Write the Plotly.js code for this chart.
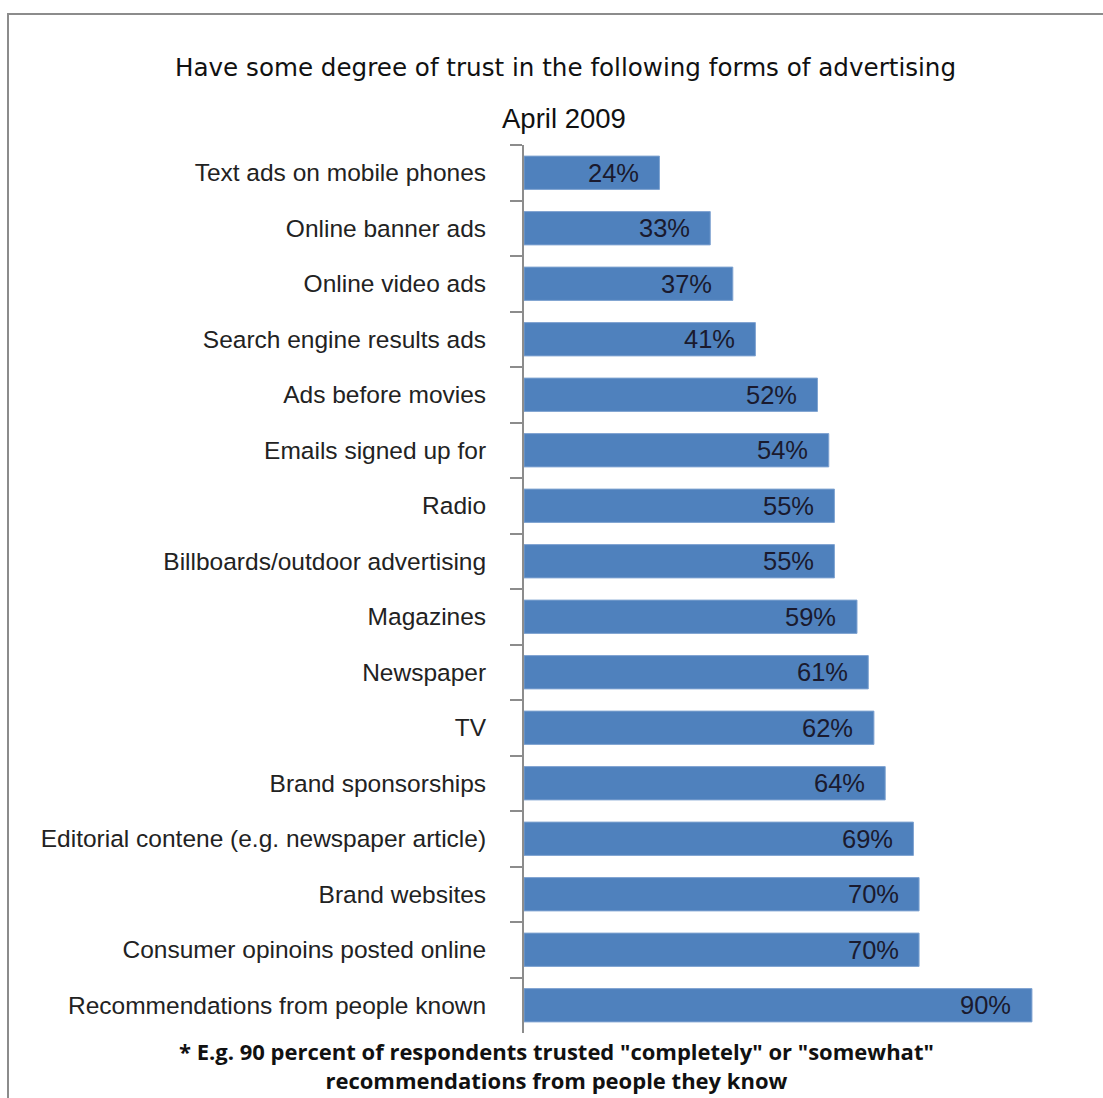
<!DOCTYPE html>
<html>
<head>
<meta charset="utf-8">
<script src="https://cdn.plot.ly/plotly-3.0.1.min.js"></script>
<style>
  html, body { margin: 0; padding: 0; background: #fff; }
  #frame { position: absolute; left: 7px; top: 13px; width: 1096px; height: 1085px;
           border-left: 2px solid #8c8c8c; border-top: 2px solid #8c8c8c; }
  #chart { position: absolute; left: 0; top: 0; width: 1103px; height: 1098px; }
</style>
</head>
<body>
<div id="frame"></div>
<div id="chart"></div>
<script>
const categories = [
  "Text ads on mobile phones",
  "Online banner ads",
  "Online video ads",
  "Search engine results ads",
  "Ads before movies",
  "Emails signed up for",
  "Radio",
  "Billboards/outdoor advertising",
  "Magazines",
  "Newspaper",
  "TV",
  "Brand sponsorships",
  "Editorial contene (e.g. newspaper article)",
  "Brand websites",
  "Consumer opinoins posted online",
  "Recommendations from people known"
];
const values = [24, 33, 37, 41, 52, 54, 55, 55, 59, 61, 62, 64, 69, 70, 70, 90];
const chartTitle = "Have some degree of trust in the following forms of advertising";
const subTitle = "April 2009";
const footnote = "* E.g. 90 percent of respondents trusted \"completely\" or \"somewhat\"<br>recommendations from people they know";

const labelFont = {family: "Liberation Sans, Arial, sans-serif", size: 24.5, color: "#222"};

const trace = {
  type: "bar",
  orientation: "h",
  y: categories,
  x: values,
  marker: {color: "#4f81bd", line: {color: "#7fa3d1", width: 1}},
  hoverinfo: "none"
};

const valueAnnotations = categories.map((c, i) => ({
  x: values[i], y: c, xref: "x", yref: "y",
  text: values[i] + "%", showarrow: false,
  xanchor: "center", xshift: -46, yshift: 0,
  font: {family: "Liberation Sans, Arial, sans-serif", size: 25.5, color: "#1a1a2e"}
}));

const layout = {
  width: 1103, height: 1098,
  margin: {l: 524, r: 43, t: 145, b: 65},
  paper_bgcolor: "rgba(0,0,0,0)",
  plot_bgcolor: "rgba(0,0,0,0)",
  showlegend: false,
  bargap: 0.4,
  xaxis: {range: [0, 94.97], visible: false, fixedrange: true},
  yaxis: {
    autorange: "reversed", type: "category",
    showline: true, linecolor: "#8c8c8c", linewidth: 2,
    ticks: "outside", tickson: "boundaries", ticklen: 12, tickcolor: "#8c8c8c", tickwidth: 2,
    ticklabelstandoff: 31,
    tickfont: labelFont, showgrid: false, zeroline: false, fixedrange: true
  },
  annotations: [
    {text: chartTitle, xref: "paper", yref: "paper", xanchor: "center", yanchor: "middle", showarrow: false,
     font: {family: "DejaVu Sans, Verdana, sans-serif", size: 24.6, color: "#111"}},
    {text: subTitle, showarrow: false, xref: "paper", yref: "paper", xanchor: "center", yanchor: "middle",
     font: {family: "Liberation Sans, Arial, sans-serif", size: 27.5, color: "#111"}},
    {text: footnote, showarrow: false, xref: "paper", yref: "paper", xanchor: "center", yanchor: "middle",
     font: {family: "Open Sans, Liberation Sans, sans-serif", size: 22, color: "#111", weight: "bold"}}
  ].concat(valueAnnotations)
};

const plotH = 1098 - 145 - 65, plotW = 1103 - 524 - 43;
function px2paperX(px) { return (px - 524) / plotW; }
function px2paperY(py) { return (1098 - 65 - py) / plotH; }
layout.annotations[0].x = px2paperX(565); layout.annotations[0].y = px2paperY(68);
layout.annotations[1].x = px2paperX(564); layout.annotations[1].y = px2paperY(119);
layout.annotations[2].x = px2paperX(556); layout.annotations[2].y = px2paperY(1065);

Plotly.newPlot("chart", [trace], layout, {displayModeBar: false, staticPlot: true});
</script>
</body>
</html>
